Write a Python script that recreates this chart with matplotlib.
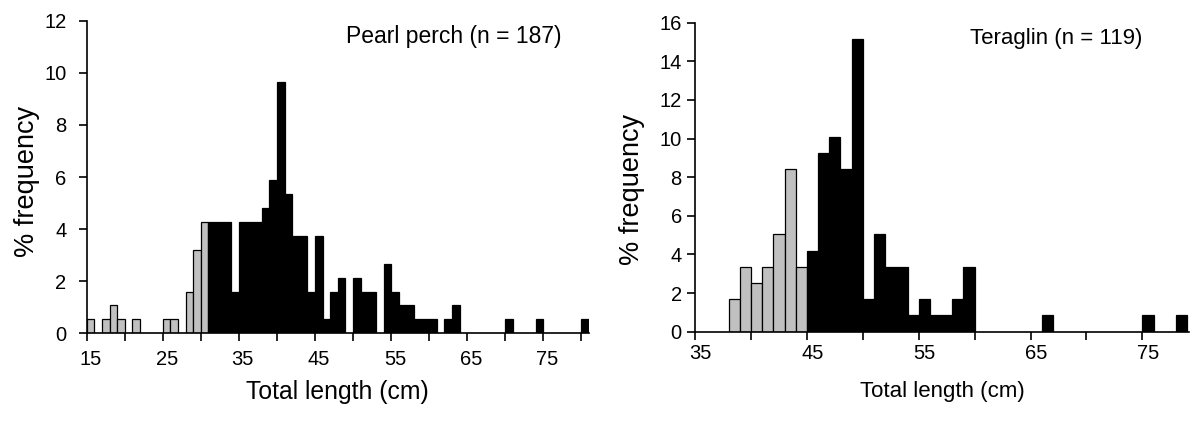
import numpy as np
import matplotlib
matplotlib.use("Agg")
import matplotlib.pyplot as plt

plt.rcParams['font.family'] = ['Liberation Sans', 'DejaVu Sans']

# Pearl perch, % frequency per 1 cm length class
pp_grey_len = [15, 17, 18, 19, 21, 25, 26, 28, 29, 30]
pp_grey_pct = [0.53, 0.53, 1.07, 0.53, 0.53, 0.53, 0.53, 1.60, 3.21, 4.28]
pp_black_len = [31, 32, 33, 34, 35, 36, 37, 38, 39, 40, 41, 42, 43, 44, 45, 46, 47, 48,
                50, 51, 52, 54, 55, 56, 57, 58, 59, 60, 62, 63, 70, 74, 80]
pp_black_pct = [4.28, 4.28, 4.28, 1.60, 4.28, 4.28, 4.28, 4.81, 5.88, 9.63, 5.35, 3.74,
                3.74, 1.60, 3.74, 0.53, 1.60, 2.14, 2.14, 1.60, 1.60, 2.67, 1.60, 1.07,
                1.07, 0.53, 0.53, 0.53, 0.53, 1.07, 0.53, 0.53, 0.53]

# Teraglin
tg_grey_len = [38, 39, 40, 41, 42, 43, 44]
tg_grey_pct = [1.68, 3.36, 2.52, 3.36, 5.04, 8.40, 3.36]
tg_black_len = [45, 46, 47, 48, 49, 50, 51, 52, 53, 54, 55, 56, 57, 58, 59, 66, 75, 78]
tg_black_pct = [4.20, 9.24, 10.08, 8.40, 15.13, 1.68, 5.04, 3.36, 3.36, 0.84, 1.68,
                0.84, 0.84, 1.68, 3.36, 0.84, 0.84, 0.84]

pp_labels = [15, 25, 35, 45, 55, 65, 75]
tg_labels = [35, 45, 55, 65, 75]


def setup(ax, xmin, xmax, ymax, labels, title, lab_size, title_size,
          xpad, ypad, xlabpad, ylab_xy):
    ax.set_xlim(xmin, xmax)
    ax.set_ylim(0, ymax)
    for s in ['top', 'right']:
        ax.spines[s].set_visible(False)
    for s in ['left', 'bottom']:
        ax.spines[s].set_linewidth(1.2)
    ax.set_yticks(np.arange(0, ymax + 1, 2))
    # tick marks on class boundaries, labels centred on the class
    ax.set_xticks(np.arange(xmin, xmax, 5), minor=True)
    ax.set_xticks([l + 0.5 for l in labels])
    ax.set_xticklabels([str(l) for l in labels])
    ax.tick_params(axis='x', which='major', length=0, pad=xpad, labelsize=14.5)
    ax.tick_params(axis='x', which='minor', length=5.5, width=1.2, direction='out')
    ax.tick_params(axis='y', length=5.5, width=1.2, direction='out', pad=ypad,
                   labelsize=14.5)
    ax.set_xlabel('Total length (cm)', fontsize=lab_size, labelpad=xlabpad)
    ax.set_ylabel('% frequency', fontsize=19.5)
    ax.yaxis.set_label_coords(*ylab_xy)
    ax.text(0.73, 0.949, title, transform=ax.transAxes, ha='center', va='center',
            fontsize=title_size)


fig = plt.figure(figsize=(11.93, 4.21), dpi=100)
ax1 = fig.add_axes([0.0727, 0.2083, 0.421, 0.7425])
ax2 = fig.add_axes([0.5826, 0.2121, 0.4143, 0.734])

ax1.bar(pp_grey_len, pp_grey_pct, width=1, align='edge', color='#c0c0c0',
        edgecolor='black', linewidth=0.9)
ax1.bar(pp_black_len, pp_black_pct, width=1, align='edge', color='black',
        edgecolor='black', linewidth=0.9)
setup(ax1, 15, 81, 12, pp_labels, 'Pearl perch (n = 187)', 17.8, 16.5,
      12, 9, 8, (-0.093, 0.487))

ax2.bar(tg_grey_len, tg_grey_pct, width=1, align='edge', color='#c0c0c0',
        edgecolor='black', linewidth=0.9)
ax2.bar(tg_black_len, tg_black_pct, width=1, align='edge', color='black',
        edgecolor='black', linewidth=0.9)
setup(ax2, 35, 79.2, 16, tg_labels, 'Teraglin (n = 119)', 16, 16,
      9, 4, 13, (-0.101, 0.459))

fig.savefig('out.png', dpi=100)
